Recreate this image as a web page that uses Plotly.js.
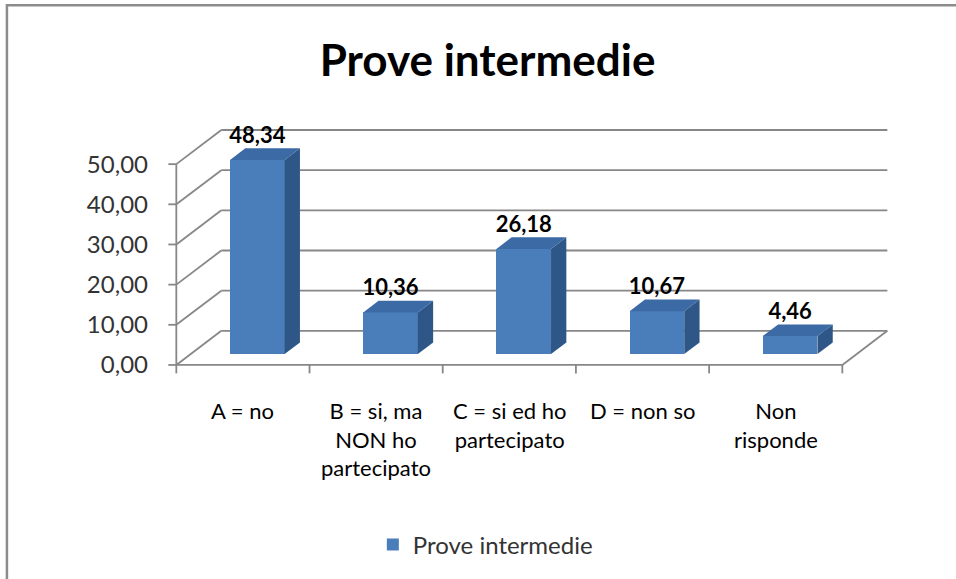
<!DOCTYPE html>
<html>
<head>
<meta charset="utf-8">
<script src="https://cdn.plot.ly/plotly-3.0.1.min.js"></script>
<style>
html,body{margin:0;padding:0;background:#fff;}
#chart{width:956px;height:579px;}
</style>
</head>
<body>
<div id="chart"></div>
<script>
// ---- data ----
const categories = [
  "A = no",
  "B = si, ma<br>NON ho<br>partecipato",
  "C = si ed ho<br>partecipato",
  "D = non so",
  "Non<br>risponde"
];
const values = [48.34, 10.36, 26.18, 10.67, 4.46];
const seriesName = "Prove intermedie";
const yTicks = [0, 10, 20, 30, 40, 50];
const chartTitle = "Prove intermedie";

// ---- 3D-look geometry (in axis units) ----
const DX = 0.338;   // depth offset along category axis
const DY = 8.5;     // depth offset along value axis
const F1 = 0.32;    // front depth fraction of bars
const F2 = 0.66;    // back depth fraction of bars
const BW = 0.41;    // bar width
const n = categories.length;
const xLo = -0.5, xHi = n - 0.5;

const cFront = '#4A7EBB', cSide = '#2E5686', cTop = '#3B6AA5';
const gridCol = '#878787';

const shapes = [];
function seg(x0,y0,x1,y1,w){
  shapes.push({type:'line', xref:'x', yref:'y', x0:x0, y0:y0, x1:x1, y1:y1,
    layer:'below', line:{color:gridCol, width:w||1.8}});
}
// back wall gridlines and left wall diagonals
yTicks.forEach(v => {
  seg(xLo+DX, v+DY, xHi+DX, v+DY);
  seg(xLo, v, xLo+DX, v+DY);
  seg(xLo-0.06, v, xLo, v);          // y tick marks
});
// front value axis
seg(xLo, 0, xLo, yTicks[yTicks.length-1]);
// floor
seg(xLo, 0, xHi, 0);
seg(xHi, 0, xHi+DX, DY);
// category boundary ticks
for (let i = 0; i <= n; i++) seg(xLo+i, 0, xLo+i, -2.1);

// chart border
shapes.push({type:'rect', xref:'paper', yref:'paper', x0:-0.2135, y0:-0.85, x1:1.095, y1:1.497,
  layer:'below', line:{color:'#8c8c8c', width:2.5}, fillcolor:'rgba(0,0,0,0)'});

const idx = values.map((v,i)=>i);
const xc = idx.map(i => i + F1*DX);
const d = F2 - F1;

const traces = [];
// front faces
traces.push({
  type:'bar', x:xc, y:values, base:values.map(()=>F1*DY), width:BW,
  marker:{color:cFront, line:{width:0}}, name:seriesName, showlegend:true,
  hoverinfo:'skip'
});
// side and top faces
values.forEach((v,i) => {
  const xl = xc[i]-BW/2, xr = xc[i]+BW/2, b = F1*DY, t = F1*DY + v;
  traces.push({type:'scatter', mode:'lines', fill:'toself', fillcolor:cSide,
    line:{width:0, color:cSide}, showlegend:false, hoverinfo:'skip',
    x:[xr, xr, xr+d*DX, xr+d*DX, xr], y:[b, t, t+d*DY, b+d*DY, b]});
  traces.push({type:'scatter', mode:'lines', fill:'toself', fillcolor:cTop,
    line:{width:0, color:cTop}, showlegend:false, hoverinfo:'skip',
    x:[xl, xr, xr+d*DX, xl+d*DX, xl], y:[t, t, t+d*DY, t+d*DY, t]});
});
// data labels
traces.push({
  type:'scatter', mode:'text', x:xc, y:values.map(v => F1*DY + v + d*DY),
  text: values.map(v => v.toFixed(2).replace('.', ',')),
  textposition:'top center', cliponaxis:false, showlegend:false, hoverinfo:'skip',
  textfont:{family:'Lato', size:22, color:'#000', weight:700}
});

const annotations = categories.map((c,i) => ({
  x:i, y:-0.08, xref:'x', yref:'paper', text:c, showarrow:false,
  xanchor:'center', yanchor:'top', align:'center',
  font:{family:'Lato', size:22, color:'#000'}
}));

const layout = {
  width:956, height:579,
  margin:{l:162.7, r:62.3, t:127.8, b:203.95, pad:0},
  paper_bgcolor:'#fff', plot_bgcolor:'rgba(0,0,0,0)',
  separators:',.',
  title:{text:chartTitle, x:0.51, xanchor:'center', xref:'container',
    y:0.895, yanchor:'middle', yref:'container',
    font:{family:'Lato', size:44, color:'#000', weight:700}},
  xaxis:{range:[-0.6, xHi+DX+0.05], showgrid:false, zeroline:false, showline:false,
    showticklabels:false, ticks:'', fixedrange:true},
  yaxis:{range:[-2.5, 59], showgrid:false, zeroline:false, showline:false,
    tickvals:yTicks, tickformat:'.2f', ticks:'', ticklabelstandoff:14,
    tickfont:{family:'Lato', size:24, color:'#333'}, fixedrange:true},
  showlegend:true,
  legend:{orientation:'h', xref:'container', yref:'container', x:0.39, xanchor:'left',
    y:0.059, yanchor:'middle', font:{family:'Lato', size:24, color:'#333'},
    bgcolor:'rgba(0,0,0,0)'},
  shapes:shapes, annotations:annotations, bargap:0
};

Plotly.newPlot('chart', traces, layout, {displayModeBar:false, staticPlot:true});
</script>
</body>
</html>
